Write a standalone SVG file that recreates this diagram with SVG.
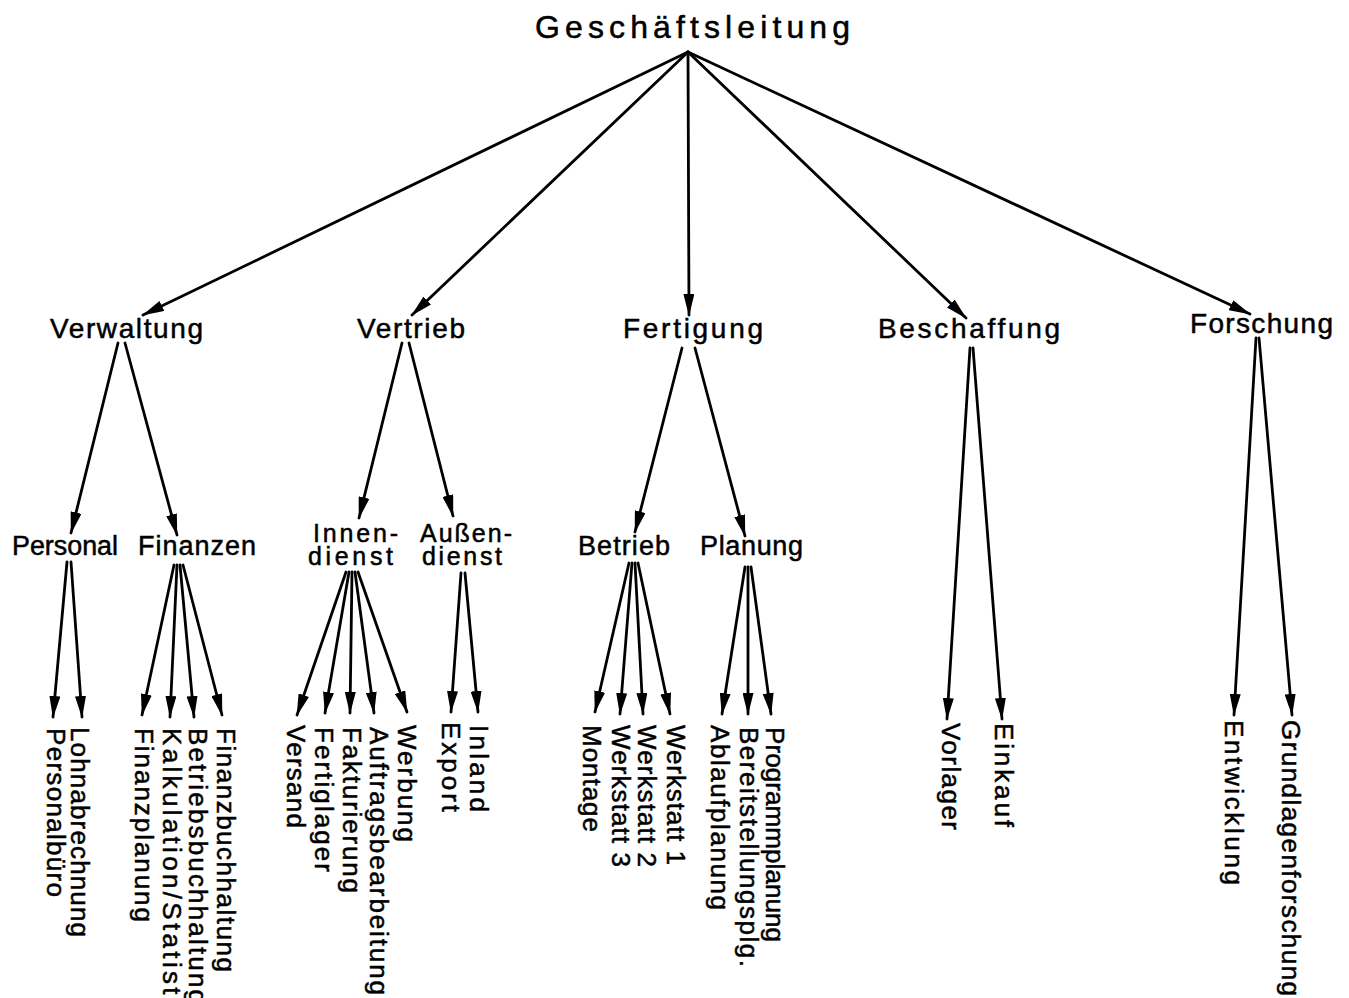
<svg xmlns="http://www.w3.org/2000/svg" width="1349" height="998" viewBox="0 0 1349 998">
  <style>
    text { font-family: "Liberation Sans", "DejaVu Sans", Arial, sans-serif; fill: #000; stroke: #000; stroke-width: 0.5; }
    .top { font-size: 32px; }
    .l1 { font-size: 28px; }
    .l2 { font-size: 27px; }
    .l2s { font-size: 25px; }
    .leaf { font-size: 26px; }
    .edge { stroke: #000; stroke-width: 2.8; stroke-linecap: round; fill: none; marker-end: url(#arrow); }
  </style>
  <defs>
    <marker id="arrow" markerUnits="userSpaceOnUse" viewBox="0 0 22 11" refX="21" refY="5.5" markerWidth="22" markerHeight="11" orient="auto">
      <path d="M0,0 L22,5.5 L0,11 Z" fill="#000"/>
    </marker>
  </defs>
  <rect width="1349" height="998" fill="#fff"/>

  <!-- connectors -->
  <g id="connectors">
    <!-- Geschäftsleitung to departments -->
    <line class="edge" x1="688" y1="52" x2="143" y2="315"/>
    <line class="edge" x1="688" y1="52" x2="412" y2="315"/>
    <line class="edge" x1="688" y1="52" x2="689" y2="315"/>
    <line class="edge" x1="688" y1="52" x2="966" y2="318"/>
    <line class="edge" x1="688" y1="52" x2="1250" y2="314"/>
    <!-- Verwaltung -->
    <line class="edge" x1="118" y1="343" x2="71" y2="533"/>
    <line class="edge" x1="125" y1="343" x2="177" y2="535"/>
    <!-- Vertrieb -->
    <line class="edge" x1="402" y1="343" x2="359" y2="518"/>
    <line class="edge" x1="409" y1="343" x2="453" y2="516"/>
    <!-- Fertigung -->
    <line class="edge" x1="682" y1="348" x2="635" y2="532"/>
    <line class="edge" x1="695" y1="348" x2="745" y2="536"/>
    <!-- Beschaffung -->
    <line class="edge" x1="970" y1="348" x2="947" y2="719"/>
    <line class="edge" x1="973" y1="348" x2="1002" y2="719"/>
    <!-- Forschung -->
    <line class="edge" x1="1256" y1="338" x2="1234" y2="715"/>
    <line class="edge" x1="1259" y1="338" x2="1292" y2="715"/>
    <!-- Personal -->
    <line class="edge" x1="67" y1="562" x2="53" y2="717"/>
    <line class="edge" x1="71" y1="562" x2="82" y2="717"/>
    <!-- Finanzen -->
    <line class="edge" x1="174" y1="565" x2="142" y2="715"/>
    <line class="edge" x1="177" y1="565" x2="170" y2="717"/>
    <line class="edge" x1="180" y1="565" x2="194" y2="717"/>
    <line class="edge" x1="183" y1="565" x2="222" y2="715"/>
    <!-- Innendienst -->
    <line class="edge" x1="346" y1="572" x2="297" y2="715"/>
    <line class="edge" x1="349" y1="572" x2="325" y2="713"/>
    <line class="edge" x1="352" y1="572" x2="350" y2="713"/>
    <line class="edge" x1="355" y1="572" x2="374" y2="713"/>
    <line class="edge" x1="358" y1="572" x2="407" y2="712"/>
    <!-- Außendienst -->
    <line class="edge" x1="461" y1="573" x2="451" y2="712"/>
    <line class="edge" x1="465" y1="573" x2="478" y2="712"/>
    <!-- Betrieb -->
    <line class="edge" x1="629" y1="563" x2="595" y2="712"/>
    <line class="edge" x1="632" y1="563" x2="620" y2="714"/>
    <line class="edge" x1="635" y1="563" x2="643" y2="714"/>
    <line class="edge" x1="638" y1="563" x2="670" y2="714"/>
    <!-- Planung -->
    <line class="edge" x1="745" y1="567" x2="722" y2="714"/>
    <line class="edge" x1="748" y1="567" x2="748" y2="714"/>
    <line class="edge" x1="751" y1="567" x2="771" y2="714"/>
  </g>

  <!-- top level -->
  <g id="geschaeftsleitung"><text class="top" x="535" y="38" textLength="315" lengthAdjust="spacing">Geschäftsleitung</text></g>

  <!-- departments -->
  <g id="verwaltung"><text class="l1" x="50" y="338" textLength="153" lengthAdjust="spacing">Verwaltung</text></g>
  <g id="vertrieb"><text class="l1" x="357" y="338" textLength="108" lengthAdjust="spacing">Vertrieb</text></g>
  <g id="fertigung"><text class="l1" x="623" y="338" textLength="140" lengthAdjust="spacing">Fertigung</text></g>
  <g id="beschaffung"><text class="l1" x="878" y="338" textLength="182" lengthAdjust="spacing">Beschaffung</text></g>
  <g id="forschung"><text class="l1" x="1190" y="333" textLength="143" lengthAdjust="spacing">Forschung</text></g>

  <!-- sub-departments -->
  <g id="personal"><text class="l2" x="12" y="555" textLength="106" lengthAdjust="spacingAndGlyphs">Personal</text></g>
  <g id="finanzen"><text class="l2" x="138" y="555" textLength="118" lengthAdjust="spacing">Finanzen</text></g>
  <g id="innendienst">
    <text class="l2s" x="313" y="542" textLength="85" lengthAdjust="spacing">Innen-</text>
    <text class="l2s" x="308" y="565" textLength="85" lengthAdjust="spacing">dienst</text>
  </g>
  <g id="aussendienst">
    <text class="l2s" x="420" y="542" textLength="92" lengthAdjust="spacing">Außen-</text>
    <text class="l2s" x="422" y="565" textLength="80" lengthAdjust="spacing">dienst</text>
  </g>
  <g id="betrieb"><text class="l2" x="578" y="555" textLength="92" lengthAdjust="spacing">Betrieb</text></g>
  <g id="planung"><text class="l2" x="700" y="555" textLength="103" lengthAdjust="spacing">Planung</text></g>

  <!-- units, lettered downwards -->
  <g id="personalbuero"><text class="leaf" transform="translate(47,728) rotate(90)" textLength="169" lengthAdjust="spacing">Personalbüro</text></g>
  <g id="lohnabrechnung"><text class="leaf" transform="translate(71,727) rotate(90)" textLength="210" lengthAdjust="spacing">Lohnabrechnung</text></g>
  <g id="finanzplanung"><text class="leaf" transform="translate(135,728) rotate(90)" textLength="194" lengthAdjust="spacing">Finanzplanung</text></g>
  <g id="kalkulation"><text class="leaf" transform="translate(163,728) rotate(90)" textLength="292" lengthAdjust="spacing">Kalkulation/Statistik</text></g>
  <g id="betriebsbuchhaltung"><text class="leaf" transform="translate(189,728) rotate(90)" textLength="276" lengthAdjust="spacing">Betriebsbuchhaltung</text></g>
  <g id="finanzbuchhaltung"><text class="leaf" transform="translate(217,728) rotate(90)" textLength="244" lengthAdjust="spacing">Finanzbuchhaltung</text></g>
  <g id="versand"><text class="leaf" transform="translate(287,725) rotate(90)" textLength="103" lengthAdjust="spacing">Versand</text></g>
  <g id="fertiglager"><text class="leaf" transform="translate(315,727) rotate(90)" textLength="145" lengthAdjust="spacing">Fertiglager</text></g>
  <g id="fakturierung"><text class="leaf" transform="translate(343,727) rotate(90)" textLength="166" lengthAdjust="spacing">Fakturierung</text></g>
  <g id="auftragsbearbeitung"><text class="leaf" transform="translate(370,727) rotate(90)" textLength="268" lengthAdjust="spacing">Auftragsbearbeitung</text></g>
  <g id="werbung"><text class="leaf" transform="translate(398,725) rotate(90)" textLength="117" lengthAdjust="spacing">Werbung</text></g>
  <g id="export"><text class="leaf" transform="translate(442,722) rotate(90)" textLength="90" lengthAdjust="spacing">Export</text></g>
  <g id="inland"><text class="leaf" transform="translate(470,725) rotate(90)" textLength="87" lengthAdjust="spacing">Inland</text></g>
  <g id="montage"><text class="leaf" transform="translate(583,725) rotate(90)" textLength="107" lengthAdjust="spacing">Montage</text></g>
  <g id="werkstatt3"><text class="leaf" transform="translate(612,725) rotate(90)" textLength="142" lengthAdjust="spacing">Werkstatt 3</text></g>
  <g id="werkstatt2"><text class="leaf" transform="translate(638,725) rotate(90)" textLength="142" lengthAdjust="spacing">Werkstatt 2</text></g>
  <g id="werkstatt1"><text class="leaf" transform="translate(667,725) rotate(90)" textLength="140" lengthAdjust="spacing">Werkstatt 1</text></g>
  <g id="ablaufplanung"><text class="leaf" transform="translate(711,725) rotate(90)" textLength="185" lengthAdjust="spacing">Ablaufplanung</text></g>
  <g id="bereitstellungsplanung"><text class="leaf" transform="translate(740,727) rotate(90)" textLength="240" lengthAdjust="spacing">Bereitstellungsplg.</text></g>
  <g id="programmplanung"><text class="leaf" transform="translate(766,727) rotate(90)" textLength="215" lengthAdjust="spacing">Programmplanung</text></g>
  <g id="vorlager"><text class="leaf" transform="translate(942,723) rotate(90)" textLength="107" lengthAdjust="spacing">Vorlager</text></g>
  <g id="einkauf"><text class="leaf" transform="translate(995,723) rotate(90)" textLength="104" lengthAdjust="spacing">Einkauf</text></g>
  <g id="entwicklung"><text class="leaf" transform="translate(1225,720) rotate(90)" textLength="165" lengthAdjust="spacing">Entwicklung</text></g>
  <g id="grundlagenforschung"><text class="leaf" transform="translate(1282,720) rotate(90)" textLength="276" lengthAdjust="spacing">Grundlagenforschung</text></g>
</svg>
